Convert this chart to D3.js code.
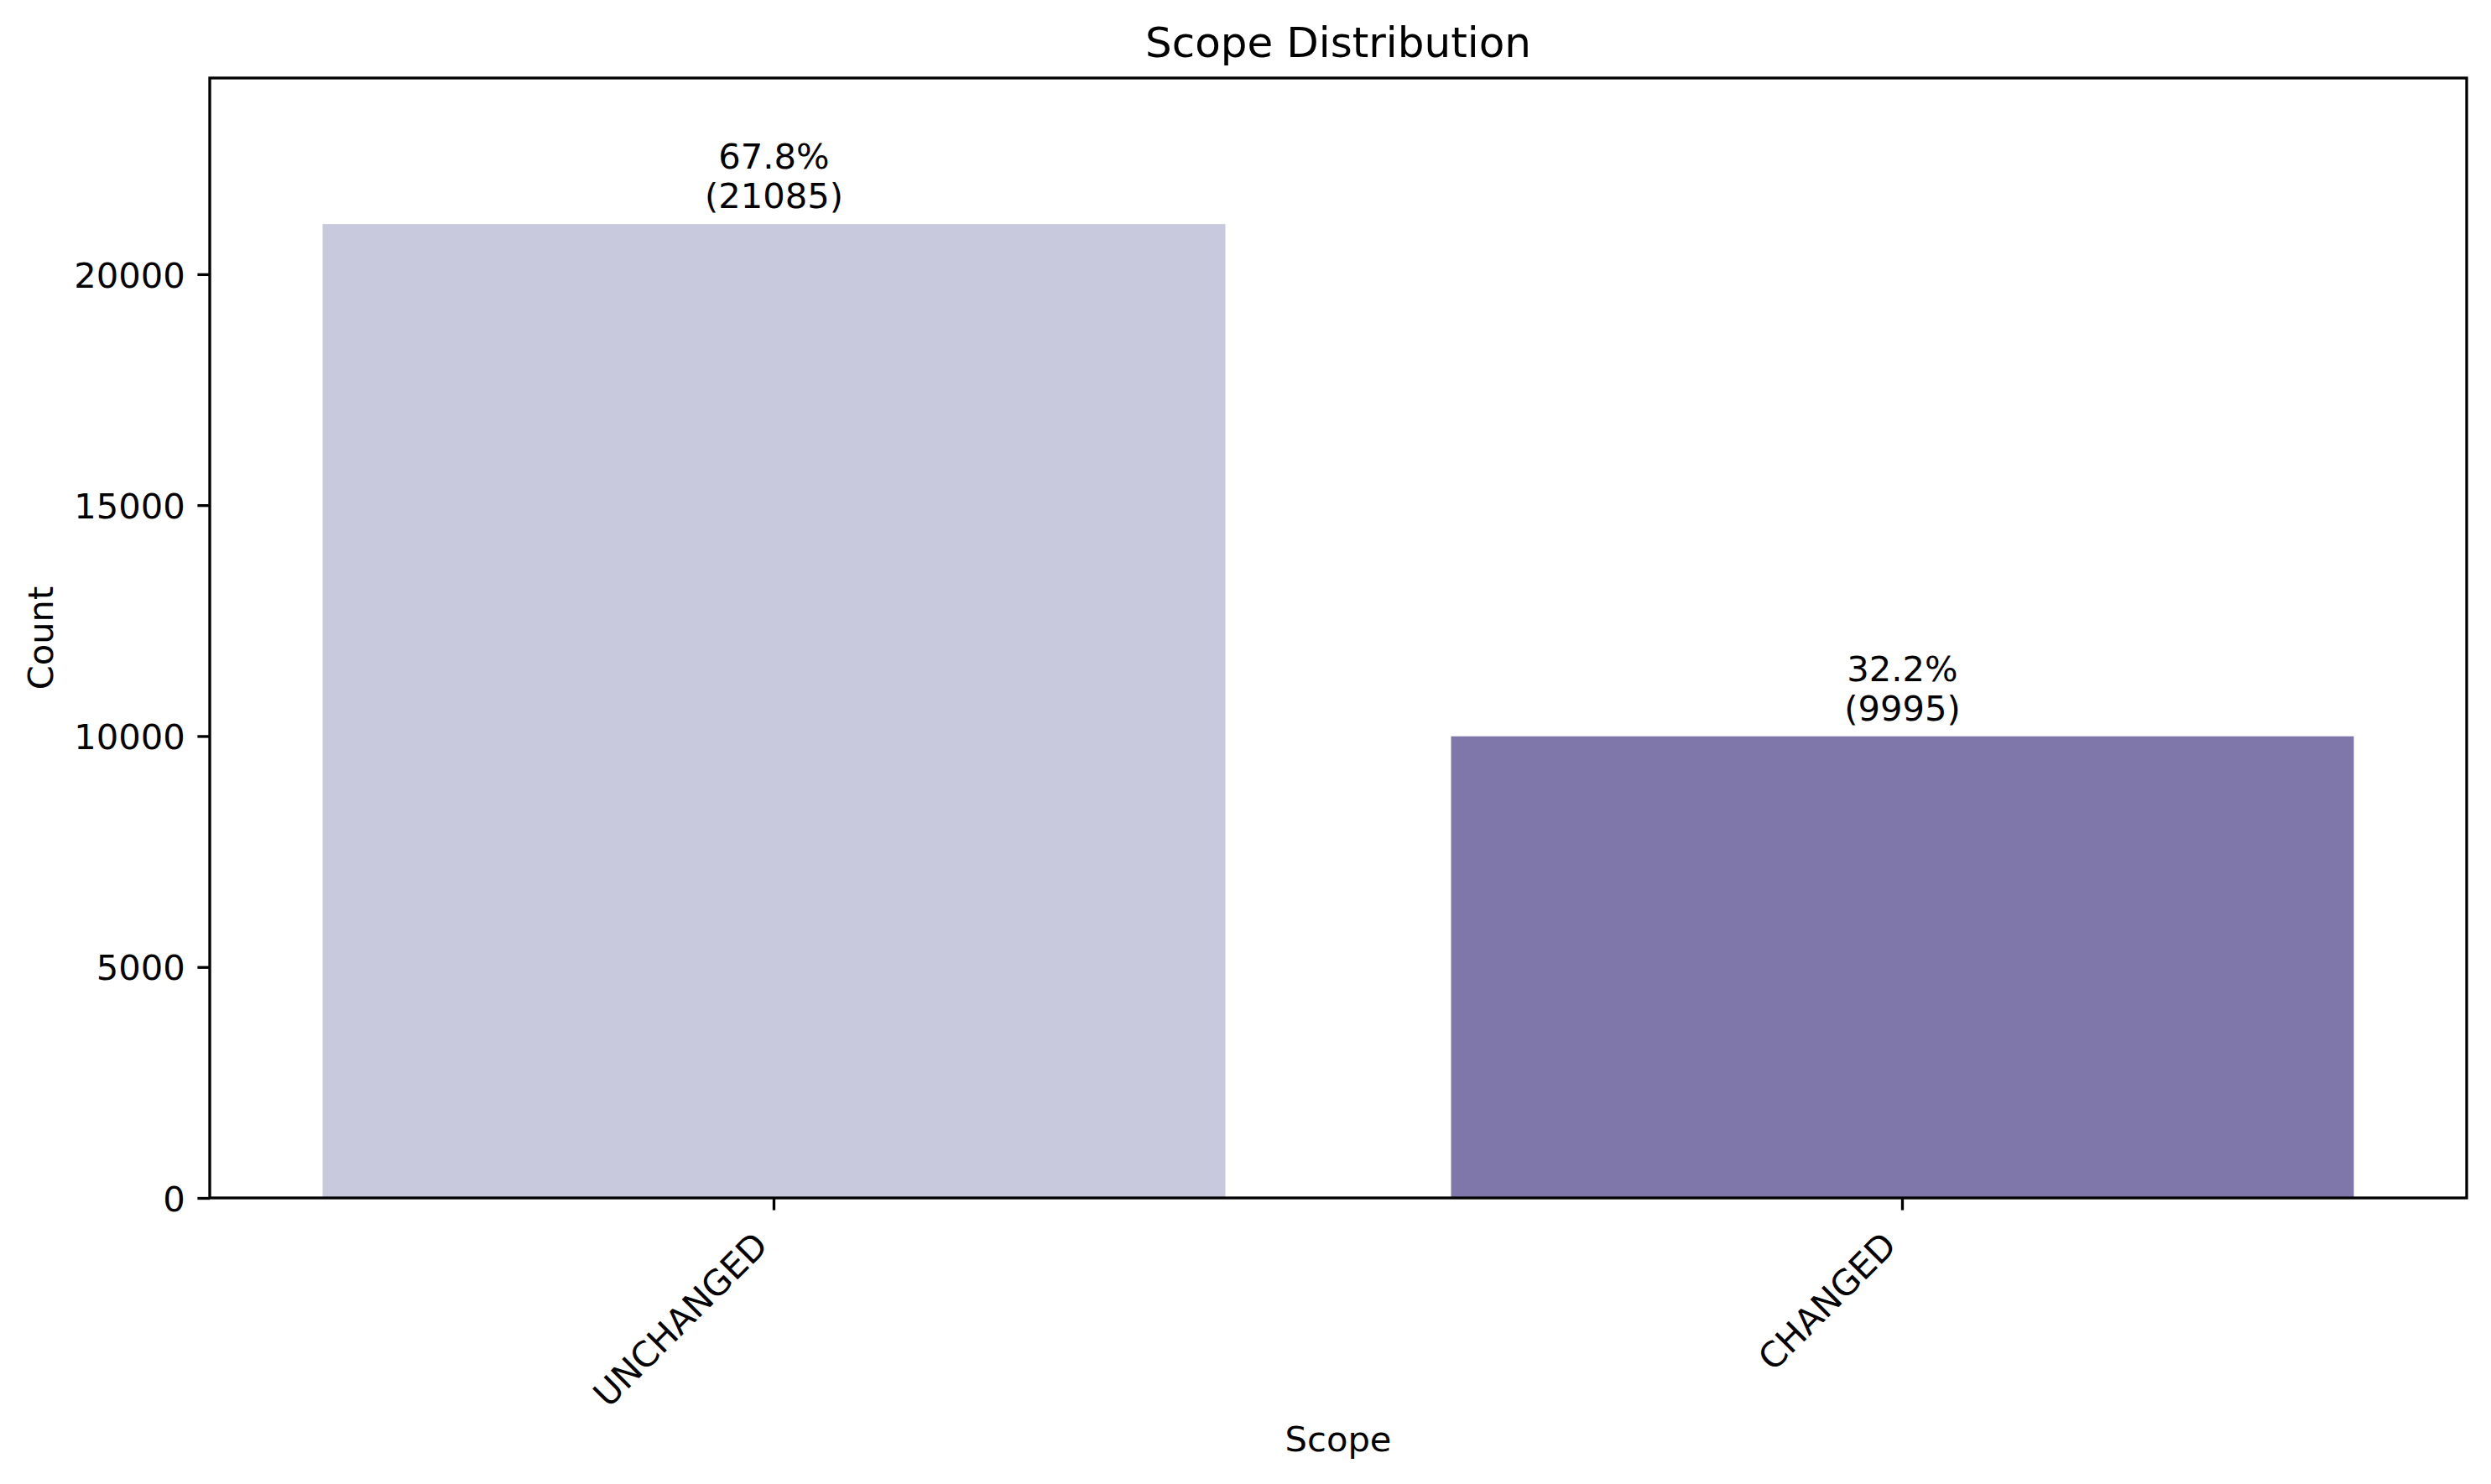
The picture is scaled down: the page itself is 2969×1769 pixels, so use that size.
<!DOCTYPE html>
<html>
<head>
<meta charset="utf-8">
<script src="https://cdn.jsdelivr.net/npm/d3@7"></script>
<style>
  html, body { margin: 0; padding: 0; background: #ffffff; }
  svg { display: block; }
  text { font-family: "DejaVu Sans", sans-serif; fill: #000; }
</style>
</head>
<body>
<div id="chart"></div>
<script>
// ---- data ----
const categories = ["UNCHANGED", "CHANGED"];
const counts = [21085, 9995];
const barColors = ["#c9c9de", "#7f77a9"];
const yTickValues = [0, 5000, 10000, 15000, 20000];
const titleText = "Scope Distribution";
const xLabelText = "Scope";
const yLabelText = "Count";

// ---- layout ----
const W = 2969, H = 1769;
const plot = { left: 250, right: 2940, top: 93, bottom: 1428 };
const fs = 41.67;          // 10pt @ 300dpi
const titleFs = 50;        // 12pt @ 300dpi
const tickLen = 14.6;
const lw = 3.33;

const svg = d3.select("#chart").append("svg")
  .attr("width", W).attr("height", H)
  .attr("viewBox", `0 0 ${W} ${H}`);

svg.append("rect").attr("width", W).attr("height", H).attr("fill", "#ffffff");

const total = d3.sum(counts);
const data = categories.map((c, i) => ({ cat: c, value: counts[i], color: barColors[i] }));

const x = d3.scaleBand()
  .domain(categories)
  .range([plot.left, plot.right])
  .paddingInner(0.2)
  .paddingOuter(0.1);

const yMax = d3.max(counts) * 1.15;
const y = d3.scaleLinear().domain([0, yMax]).range([plot.bottom, plot.top]);

// bars
svg.append("g").selectAll("rect").data(data).enter().append("rect")
  .attr("x", d => x(d.cat))
  .attr("y", d => y(d.value))
  .attr("width", x.bandwidth())
  .attr("height", d => y(0) - y(d.value))
  .attr("fill", d => d.color);

// annotations
const ann = svg.append("g").selectAll("g").data(data).enter().append("g");
ann.append("text")
  .attr("x", d => x(d.cat) + x.bandwidth() / 2)
  .attr("y", d => y(d.value) - 19 - 47)
  .attr("text-anchor", "middle")
  .attr("font-size", fs)
  .text(d => (d.value / total * 100).toFixed(1) + "%");
ann.append("text")
  .attr("x", d => x(d.cat) + x.bandwidth() / 2)
  .attr("y", d => y(d.value) - 19)
  .attr("text-anchor", "middle")
  .attr("font-size", fs)
  .text(d => "(" + d.value + ")");

// y axis
const yAxis = d3.axisLeft(y).tickValues(yTickValues).tickSize(tickLen).tickPadding(14.6)
  .tickFormat(d3.format("d"));
const gy = svg.append("g").attr("transform", `translate(${plot.left},0)`).call(yAxis);
gy.select(".domain").remove();
gy.selectAll(".tick line").attr("stroke", "#000").attr("stroke-width", lw);
gy.selectAll(".tick text")
  .attr("font-size", fs)
  .attr("font-family", "DejaVu Sans")
  .attr("fill", "#000")
  .attr("dy", "0.365em");

// x axis
const lx = -5, ly = 59;
const xAxis = d3.axisBottom(x).tickSize(tickLen).tickPadding(0);
const gx = svg.append("g").attr("transform", `translate(0,${plot.bottom})`).call(xAxis);
gx.select(".domain").remove();
gx.selectAll(".tick line").attr("stroke", "#000").attr("stroke-width", lw);
gx.selectAll(".tick text")
  .attr("font-size", fs)
  .attr("font-family", "DejaVu Sans")
  .attr("fill", "#000")
  .attr("text-anchor", "end")
  .attr("x", lx)
  .attr("y", ly)
  .attr("dy", 0)
  .attr("transform", `rotate(-45,${lx},${ly})`);

// frame
svg.append("rect")
  .attr("x", plot.left).attr("y", plot.top)
  .attr("width", plot.right - plot.left).attr("height", plot.bottom - plot.top)
  .attr("fill", "none").attr("stroke", "#000").attr("stroke-width", lw);

// title
svg.append("text")
  .attr("x", (plot.left + plot.right) / 2).attr("y", 68)
  .attr("text-anchor", "middle").attr("font-size", titleFs)
  .text(titleText);

// x label
svg.append("text")
  .attr("x", (plot.left + plot.right) / 2).attr("y", 1730)
  .attr("text-anchor", "middle").attr("font-size", fs)
  .text(xLabelText);

// y label
svg.append("text")
  .attr("transform", `translate(63,${(plot.top + plot.bottom) / 2}) rotate(-90)`)
  .attr("text-anchor", "middle").attr("font-size", fs)
  .text(yLabelText);
</script>
</body>
</html>
